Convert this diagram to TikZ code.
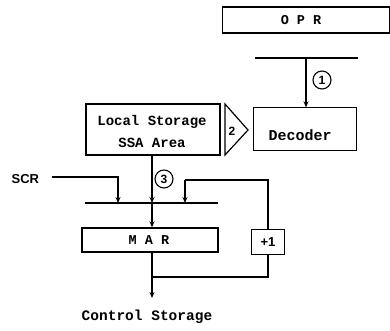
\documentclass[tikz,border=0pt]{standalone}
\usepackage{fontspec}
\setmonofont{Liberation Mono}
\setsansfont{Liberation Sans}
\usetikzlibrary{arrows.meta}
\begin{document}
\begin{tikzpicture}[x=1pt,y=-1pt,
  line width=1.3pt,
  txt/.style={font=\ttfamily\bfseries\fontsize{14}{16}\selectfont, inner sep=0pt},
  box/.style={draw, line width=1.4pt, inner sep=0pt},
  arr/.style={-{Stealth[length=6pt,width=5pt]}},
  circ/.style={draw, circle, line width=1.1pt, minimum size=18pt, inner sep=0pt, font=\sffamily\bfseries\fontsize{12}{13}\selectfont}
]
\useasboundingbox (0,0) rectangle (390,330);
% OPR
\node[box, minimum width=167pt, minimum height=26pt] (opr) at (306,20) {};
\node[txt, font=\ttfamily\bfseries\fontsize{13.5}{15}\selectfont] (oprt) at (301,20) {O P R};
% bar 1
\coordinate (b1l) at (255,58);
\coordinate (b1r) at (358,58);
\draw (b1l) -- (b1r);
% decoder
\node[box, minimum width=103pt, minimum height=43pt] (dec) at (305,129) {};
\node[txt, font=\ttfamily\bfseries\fontsize{15}{17}\selectfont] (dect) at (300,135) {Decoder};
\coordinate (a1) at (306,58);
\draw[arr] (a1) -- (306,107.3);
\node[circ] (c1) at (322,80) {1};
% local storage
\node[box, minimum width=134pt, minimum height=51pt] (ls) at (153,129.5) {};
\node[txt] (lst1) at (152,122) {Local Storage};
\node[txt] (lst2) at (152,143) {SSA Area};
% triangle 2
\draw[line width=1.2pt] (225,104) coordinate (t1) -- (248,130) coordinate (t2) -- (225,155) coordinate (t3) -- cycle;
\node[font=\sffamily\bfseries\fontsize{12}{13}\selectfont] (two) at (232,131) {2};
% bar 2
\coordinate (b2l) at (85,203);
\coordinate (b2r) at (218,203);
\draw (b2l) -- (b2r);
% SCR
\node[font=\sffamily\bfseries\fontsize{13}{14}\selectfont, anchor=west, inner sep=0pt] (scr) at (11,179) {SCR};
\coordinate (s1) at (52,177);
\coordinate (s2) at (118,177);
\draw[arr] (s1) -- (s2) -- (118,203);
% central
\coordinate (lsb) at (152,155);
\draw[arr] (lsb) -- (152,203);
\node[circ] (c3) at (164,179) {3};
% MAR
\node[box, minimum width=136pt, minimum height=24pt] (mar) at (150,240) {};
\node[txt, font=\ttfamily\bfseries\fontsize{13.5}{15}\selectfont] (mart) at (149,240) {M A R};
\draw[arr] (152,203) -- (mar.north -| 152,0);
% +1
\node[box, minimum width=33pt, minimum height=25pt, font=\sffamily\bfseries\fontsize{13}{14}\selectfont] (inc) at (268,242) {+1};
\coordinate (f1) at (185,180);
\coordinate (f2) at (268,180);
\draw (inc.north) -- (f2) -- (f1);
\draw[arr] (f1) -- (185,203);
% bottom
\coordinate (m1) at (152,277);
\coordinate (m2) at (268,277);
\draw (inc.south) -- (m2) -- (m1);
\coordinate (out) at (152,298);
\draw[arr] (mar.south -| 152,0) -- (out);
\node[txt, font=\ttfamily\bfseries\fontsize{14.5}{16}\selectfont] (cs) at (147,317) {Control Storage};
\end{tikzpicture}
\end{document}
